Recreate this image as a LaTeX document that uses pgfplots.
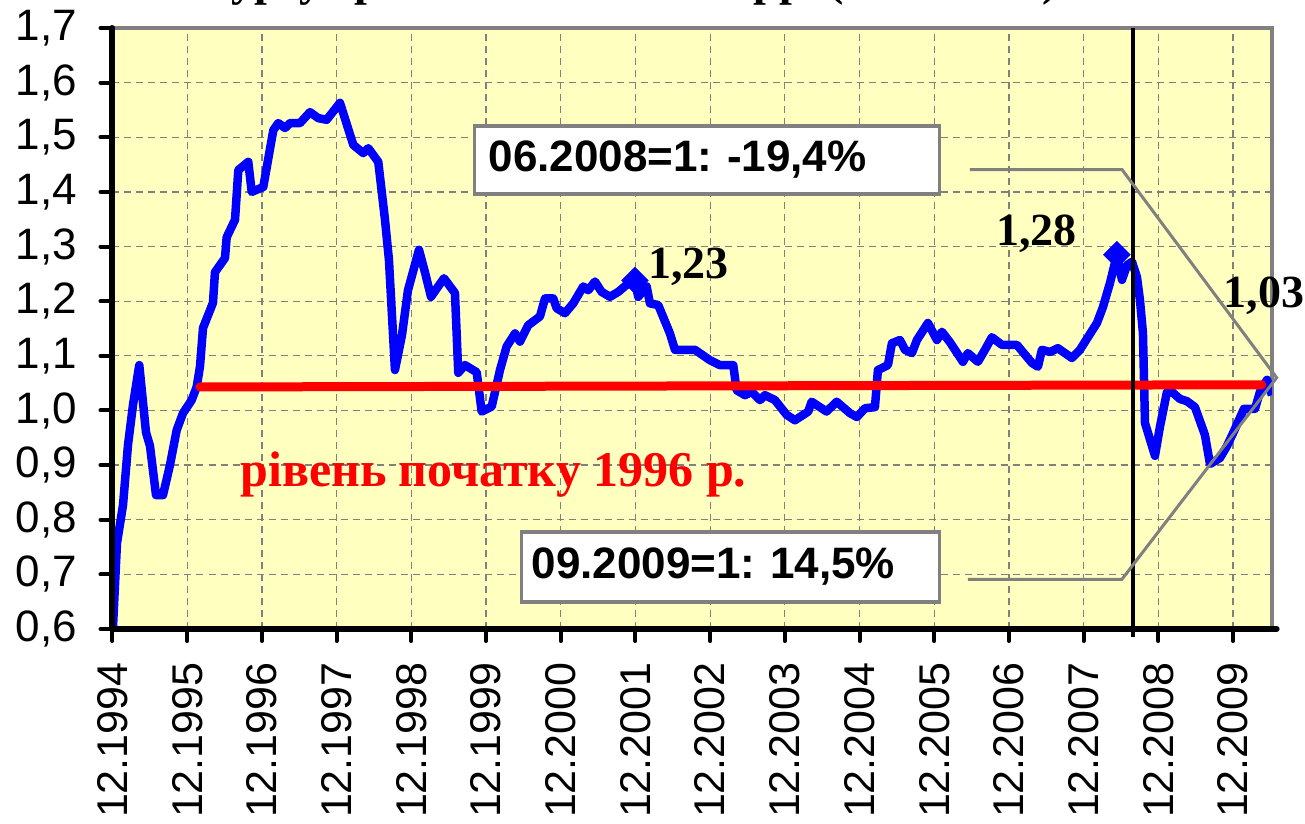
\documentclass[border=0pt]{standalone}
\usepackage{pgfplots}
\pgfplotsset{compat=1.18}
\usepackage{fontspec}
\setmainfont{Liberation Sans}
\newfontfamily\tnr{Liberation Serif}
\definecolor{bgyellow}{RGB}{255,255,192}
\definecolor{gridgray}{RGB}{128,128,128}
\definecolor{myblue}{RGB}{0,0,255}
\definecolor{myred}{RGB}{255,0,0}
\frenchspacing
\begin{document}
\begin{tikzpicture}
\begin{axis}[name=ax,
  scale only axis, width=1159.5bp, height=601bp,
  xmin=0, xmax=186.25, ymin=0.6, ymax=1.7,
  clip mode=individual,
  axis background/.style={fill=bgyellow},
  axis line style={gridgray, line width=3.5bp},
  xtick={0,12,...,180},
  xticklabels={12.1994,12.1995,12.1996,12.1997,12.1998,12.1999,12.2000,12.2001,12.2002,12.2003,12.2004,12.2005,12.2006,12.2007,12.2008,12.2009},
  ytick={0.6,0.7,0.8,0.9,1.0,1.1,1.2,1.3,1.4,1.5,1.6,1.7},
  yticklabels={{0,6},{0,7},{0,8},{0,9},{1,0},{1,1},{1,2},{1,3},{1,4},{1,5},{1,6},{1,7}},
  tick pos=left,
  tick align=outside,
  major tick length=12bp,
  tick style={black, line width=4bp, line cap=round},
  grid=major,
  major grid style={gridgray, line width=1.2bp, dash pattern=on 7bp off 5bp},
  xticklabel style={yshift=-18bp, rotate=90, anchor=east, font=\fontsize{43bp}{50bp}\selectfont},
  yticklabel style={anchor=east, xshift=-20bp, font=\fontsize{44bp}{52bp}\selectfont},
]
% blue series
\addplot[myblue, line width=8.5bp, line join=round] coordinates {
(0,0.585) (0.72,0.757) (1.69,0.827) (2.49,0.937) (3.29,1.01) (4.30,1.083) (5.38,0.96) (6.02,0.935) (6.99,0.845) (8.11,0.845) (9.23,0.90) (10.31,0.964) (11.32,0.995) (12.72,1.019) (13.52,1.043) (14.05,1.08) (14.54,1.151) (16.14,1.197) (16.46,1.253) (18.07,1.279) (18.34,1.317) (19.68,1.349) (20.21,1.44) (21.81,1.455) (22.36,1.40) (24.22,1.409) (25.83,1.513) (26.63,1.526) (27.71,1.517) (28.51,1.526) (30.12,1.526) (31.72,1.546) (33.06,1.535) (34.40,1.532) (36.54,1.563) (38.68,1.486) (40.28,1.471) (41.09,1.48) (42.69,1.455) (43.77,1.349) (44.41,1.275) (45.37,1.074) (46.5,1.138) (47.46,1.22) (49.23,1.294) (50.19,1.253) (51.16,1.208) (53.24,1.242) (55.01,1.215) (55.54,1.069) (56.62,1.083) (58.5,1.07) (59.3,0.998) (60.91,1.007) (62.24,1.074) (63.31,1.117) (64.65,1.141) (65.45,1.126) (66.78,1.156) (68.66,1.172) (69.47,1.205) (70.8,1.205) (71.35,1.187) (72.68,1.178) (74.01,1.196) (75.62,1.227) (76.42,1.22) (77.5,1.236) (78.57,1.217) (79.91,1.208) (81.24,1.217) (82.59,1.23) (83.92,1.238) (84.45,1.208) (85.8,1.227) (86.33,1.196) (87.66,1.193) (89.54,1.141) (90.35,1.111) (93.56,1.111) (95.97,1.092) (97.57,1.083) (99.71,1.083) (100.26,1.037) (101.59,1.028) (102.67,1.034) (104.0,1.019) (104.8,1.028) (106.41,1.019) (108.29,0.992) (109.62,0.982) (111.76,0.998) (112.3,1.016) (114.71,0.998) (116.32,1.016) (118.46,0.995) (119.58,0.988) (120.87,1.004) (122.47,1.006) (122.95,1.074) (124.56,1.083) (125.2,1.123) (126.49,1.129) (127.29,1.111) (128.41,1.105) (129.22,1.129) (130.98,1.16) (132.43,1.129) (133.23,1.144) (134.51,1.125) (136.6,1.089) (137.4,1.105) (139.01,1.089) (140.14,1.111) (141.26,1.134) (142.87,1.12) (145.28,1.12) (146.88,1.098) (147.69,1.087) (148.65,1.08) (149.29,1.111) (150.58,1.107) (151.86,1.114) (154.11,1.096) (155.4,1.111) (156.68,1.134) (158.13,1.16) (159.09,1.189) (160.22,1.233) (161.34,1.285) (162.15,1.239) (162.95,1.266) (163.76,1.272) (164.56,1.244) (165.04,1.202) (165.52,1.142) (165.85,0.977) (167.45,0.917) (168.25,0.97) (169.38,1.034) (169.86,1.037) (171.47,1.021) (172.59,1.017) (173.88,1.006) (175.48,0.955) (176.29,0.902) (177.89,0.913) (179.02,0.935) (180.14,0.962) (181.75,1.003) (183.52,1.003) (184.32,1.034) (185.45,1.056) (186.25,1.028)
};
% markers
\addplot[only marks, mark=square*, mark size=9.5bp, myblue, mark options={rotate=45}] coordinates {(83.92,1.238) (161.34,1.285)};
% red level line
\addplot[myred, line width=9bp, line cap=round] coordinates {(14.05,1.043) (184.6,1.047)};
% black vertical line
\draw[black, line width=4.5bp] (axis cs:163.9,1.7) -- (axis cs:163.9,0.585);
% leader lines
\draw[gridgray, line width=3bp] (axis cs:137.7,1.441) -- (axis cs:162.15,1.441) -- (axis cs:187.0,1.06) -- (axis cs:162.15,0.691) -- (axis cs:137.4,0.691);
% boxes
\node[draw=gridgray, line width=3.5bp, fill=white, anchor=north west, minimum width=465bp, minimum height=68bp, inner xsep=14bp, inner ysep=0bp, text width=437bp, align=left, font=\bfseries\fontsize{44bp}{52bp}\selectfont] at (axis cs:57.9,1.524) {06.2008=1: -19,4\%};
\node[draw=gridgray, line width=3.5bp, fill=white, anchor=north west, minimum width=418bp, minimum height=70bp, inner xsep=10bp, inner ysep=0bp, text width=398bp, align=left, font=\bfseries\fontsize{44bp}{52bp}\selectfont] at (axis cs:65.45,0.781) {09.2009=1: 14,5\%};
% data labels
\node[anchor=base west, inner sep=0pt, font=\tnr\bfseries\fontsize{46bp}{55bp}\selectfont] at (axis cs:86.0,1.242) {1,23};
\node[anchor=base west, inner sep=0pt, font=\tnr\bfseries\fontsize{46bp}{55bp}\selectfont] at (axis cs:141.9,1.301) {1,28};
\node[anchor=base west, inner sep=0pt, font=\tnr\bfseries\fontsize{46bp}{55bp}\selectfont] at (axis cs:178.5,1.189) {1,03};
\node[anchor=base west, inner sep=0pt, text=myred, font=\tnr\bfseries\fontsize{50bp}{60bp}\selectfont] at (axis cs:20.5,0.86) {рівень початку 1996 р.};
% title (mostly above the visible area)
\node[anchor=base west, inner sep=0pt, font=\tnr\bfseries\fontsize{46bp}{55bp}\selectfont] at (axis cs:14.86,1.760) {курсу гривні за 1994–2009 рр. (12.1994=1)};
\node[anchor=base west, inner sep=0pt, font=\tnr\bfseries\fontsize{46bp}{55bp}\selectfont] at (axis cs:14.86,1.862) {Індекс реального ефективного обмінного};
% black left and bottom axis lines
\draw[black, line width=6bp, line cap=round, line join=round] (rel axis cs:0,1) -- (rel axis cs:0,0) -- (rel axis cs:1.004,0);
\end{axis}
\pgfresetboundingbox
\path[use as bounding box] ([xshift=-112.5bp,yshift=-195bp]ax.south west) rectangle ([xshift=1192.5bp,yshift=629bp]ax.south west);
\end{tikzpicture}
\end{document}
